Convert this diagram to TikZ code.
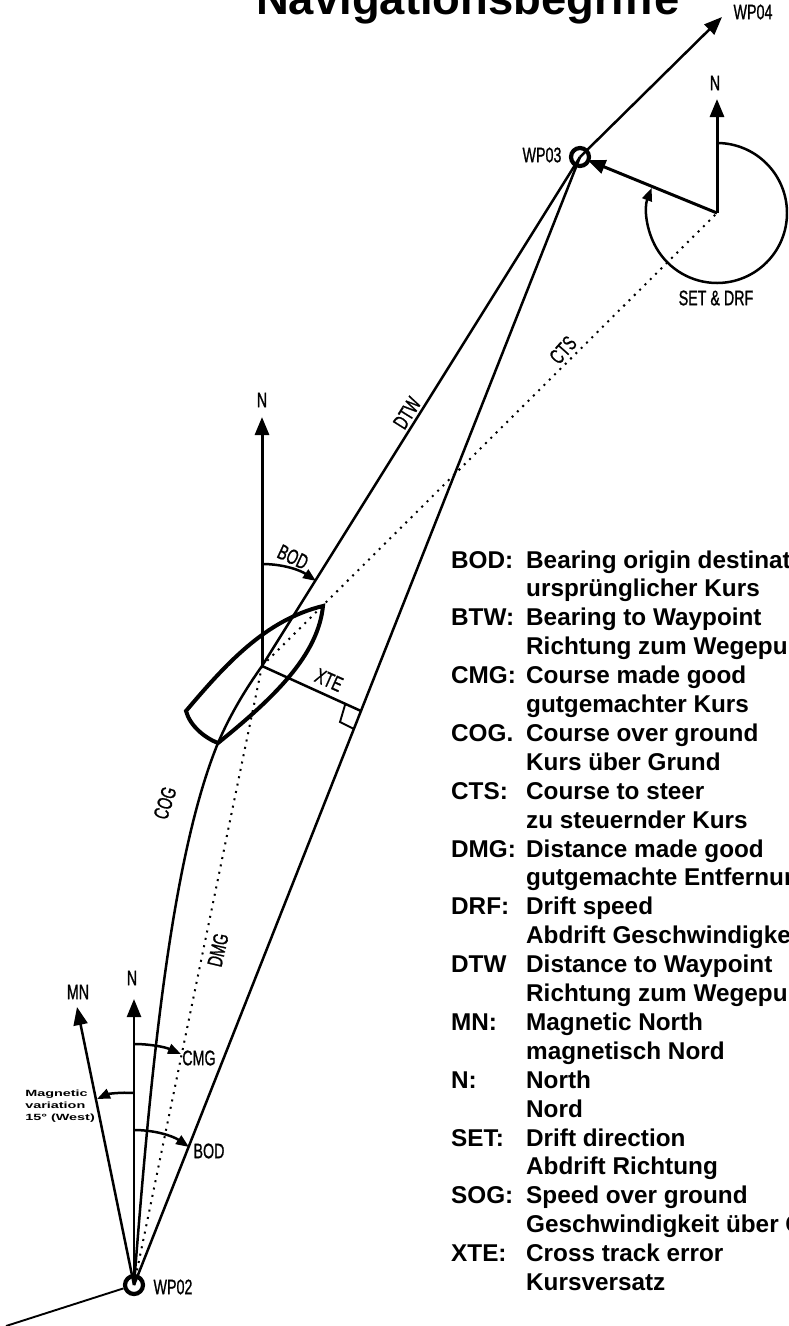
\documentclass[tikz,border=0pt]{standalone}
\usepackage{graphicx}
\usepackage{fontspec}
\setmainfont{Liberation Sans}
\newfontfamily\labfont[FakeBold=1.2]{Liberation Sans}
\newcommand\nl[1]{\scalebox{.68}[1]{\labfont #1}}
\usetikzlibrary{arrows.meta}
\tikzset{
  x=1pt,y=-1pt,
  tipbig/.style={-{Triangle[length=18pt,width=14pt]}},
  tipsmall/.style={-{Triangle[length=13pt,width=10pt]}},
  heavy/.style={line width=3pt},
  medium/.style={line width=2.5pt},
  thinl/.style={line width=1.9pt},
  hull/.style={line width=4pt,line join=miter},
  dots/.style={line width=2pt,dash pattern=on 2pt off 5.5pt},
  ring/.style={circle,draw,line width=4.2pt,minimum size=18pt,inner sep=0pt},
  lab/.style={inner sep=0pt,font=\fontsize{21}{21}\selectfont},
  key/.style={anchor=base west,inner sep=0pt,font=\fontsize{24.3}{24.3}\bfseries\selectfont},
}
\begin{document}
\begin{tikzpicture}
\useasboundingbox (0,0) rectangle (788,1326);
\clip (0,0) rectangle (788,1326);
\node[anchor=base west,inner sep=0pt,font=\fontsize{45.4}{45.4}\bfseries\selectfont] (title) at (256,14) {Navigationsbegriffe};

% way points
\node[ring] (wp2) at (134,1285) {};
\node[ring] (wp3) at (580,157) {};
\coordinate (tail) at (6,1326);
\coordinate (wp4tip) at (722,17);
\coordinate (boat) at (262,666);
\coordinate (set) at (717,213);
\coordinate (xtefoot) at (361,711);

% tracks
\draw[medium] (wp2.center) -- (wp3.center);
\draw[medium] (boat) -- (wp3.center);
\draw[medium] (wp2.center) .. controls (150,1080) and (170,860) .. (218,743) .. controls (230,715) and (245,690) .. (boat);
\draw[thinl] (tail) -- (wp2);
\draw[dots] (wp2.center) -- (boat);
\draw[dots] (boat) -- (set);
\draw[medium,tipbig] (wp3.center) -- (wp4tip);

% north arrows
\coordinate (n1) at (134,999);
\coordinate (mn) at (77,1007);
\coordinate (n2) at (262,417);
\coordinate (n3) at (717,99);
\draw[medium,tipbig] (wp2.center) -- (n1);
\draw[medium,tipbig] (wp2.center) -- (mn);
\draw[heavy,tipbig] (boat) -- (n2);
\draw[heavy,tipbig] (set) -- (n3);
\draw[heavy,tipbig,shorten >=-3pt] (set) -- (wp3);

% hull
\draw[hull] (186,711) .. controls (225,665) and (265,620) .. (323,606)
  .. controls (318,655) and (275,697) .. (218,743)
  .. controls (205,738) and (190,726) .. cycle;

% cross track error
\draw[medium] (boat) -- (xtefoot);
\draw[thinl] (345,705) -- (340,722) -- (354,729);

% angle arcs
\draw[medium,tipsmall] (262,564) .. controls (283,564) and (300,570) .. (316,581);
\draw[medium,tipsmall] (134,1044) .. controls (150,1044) and (165,1047) .. (181,1054);
\draw[medium,tipsmall] (134,1093) .. controls (120,1092) and (108,1094) .. (97,1099);
\draw[medium,tipsmall] (134,1130) .. controls (155,1130) and (173,1136) .. (189,1147);
\draw[medium,tipsmall] (717,143) arc[start angle=-90,end angle=201,radius=70];

% diagram labels
\node[lab] (lwp2) at (173,1287) {\nl{WP02}};
\node[lab] (lwp3) at (542,155) {\nl{WP03}};
\node[lab] (lwp4) at (753,12) {\nl{WP04}};
\node[lab] at (132,978) {\nl{N}};
\node[lab] at (78,992) {\nl{MN}};
\node[lab] at (262,400) {\nl{N}};
\node[lab] at (715,83) {\nl{N}};
\node[lab] at (199,1058) {\nl{CMG}};
\node[lab] at (209,1151) {\nl{BOD}};
\node[lab,rotate=-25] at (293,557) {\nl{BOD}};
\node[lab,rotate=58] at (407,413) {\nl{DTW}};
\node[lab,rotate=-24] at (329,680) {\nl{XTE}};
\node[lab,rotate=72] at (165,803) {\nl{COG}};
\node[lab,rotate=77] at (218,950) {\nl{DMG}};
\node[lab,rotate=48] at (563,350) {\nl{CTS}};
\node[lab] at (716,298) {\nl{SET \& DRF}};
\node[inner sep=0pt,align=left,anchor=north west,font=\fontsize{9}{12}\bfseries\selectfont,xscale=1.6,transform shape] at (25,1090) {Magnetic\\variation\\15° (West)};

% key
\foreach \n/\a/\b [count=\i from 0] in {
 BOD:/Bearing origin destination/ursprünglicher Kurs,
 BTW:/Bearing to Waypoint/Richtung zum Wegepunkt,
 CMG:/Course made good/gutgemachter Kurs,
 COG./Course over ground/Kurs über Grund,
 CTS:/Course to steer/zu steuernder Kurs,
 DMG:/Distance made good/gutgemachte Entfernung,
 DRF:/Drift speed/Abdrift Geschwindigkeit,
 DTW/Distance to Waypoint/Richtung zum Wegepunkt,
 MN:/Magnetic North/magnetisch Nord,
 N:/North/Nord,
 SET:/Drift direction/Abdrift Richtung,
 SOG:/Speed over ground/Geschwindigkeit über Grund,
 XTE:/Cross track error/Kursversatz}
{
  \node[key] at (451,{568+\i*57.8}) {\n};
  \node[key] at (526,{568+\i*57.8}) {\a};
  \node[key] at (526,{568+\i*57.8+28.9}) {\b};
}
\end{tikzpicture}
\end{document}
